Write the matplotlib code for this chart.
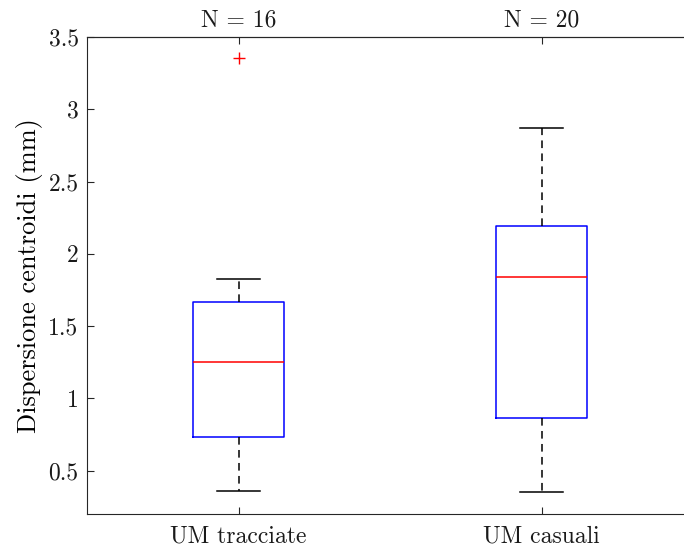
import matplotlib
matplotlib.use("Agg")
import matplotlib.pyplot as plt

# box statistics (mm)
groups = ["UM tracciate", "UM casuali"]
counts = [16, 20]
whislo = [0.36, 0.35]
q1 = [0.73, 0.865]
med = [1.255, 1.84]
q3 = [1.67, 2.19]
whishi = [1.825, 2.87]
fliers = [[3.355], []]

plt.rcParams['font.family'] = ['cmr10', 'DejaVu Serif']
plt.rcParams['axes.formatter.use_mathtext'] = True

stats = []
for i in range(len(groups)):
    stats.append(dict(label=groups[i], whislo=whislo[i], q1=q1[i], med=med[i],
                      q3=q3[i], whishi=whishi[i], fliers=fliers[i]))

fig = plt.figure(figsize=(6.84, 5.49), dpi=100)
ax = fig.add_axes([87 / 684, 35 / 549, 606 / 684, 477 / 549])

ax.bxp(stats, positions=[1, 2], widths=0.3, capwidths=0.145,
       boxprops=dict(color='blue', linewidth=1.1),
       medianprops=dict(color='red', linewidth=1.1),
       whiskerprops=dict(color='black', linestyle=(0, (5, 3.5)), linewidth=1.1),
       capprops=dict(color='black', linewidth=1.1),
       flierprops=dict(marker='+', markeredgecolor='red', markersize=8, linestyle='none'))

ax.set_xlim(0.5, 2.5)
ax.set_ylim(0.2, 3.5)
ax.set_yticks([0.5, 1, 1.5, 2, 2.5, 3, 3.5])
ax.set_yticklabels(['0.5', '1', '1.5', '2', '2.5', '3', '3.5'])
ax.set_ylabel('Dispersione centroidi (mm)', fontsize=19, labelpad=4)
ax.tick_params(direction='in', length=5, labelsize=17, colors='0.15', labelcolor='0.1')
ax.tick_params(axis='x', pad=8)
ax.tick_params(axis='y', pad=6)
ax.spines['right'].set_visible(False)

top = ax.secondary_xaxis('top')
top.set_xticks([1, 2])
top.set_xticklabels(['N = %d' % n for n in counts])
top.tick_params(direction='in', length=5, labelsize=17, colors='0.15', labelcolor='0.1', pad=4)

for s in ax.spines.values():
    s.set_color('0.15')
top.spines['top'].set_color('0.15')

fig.savefig('out.png', dpi=100)
